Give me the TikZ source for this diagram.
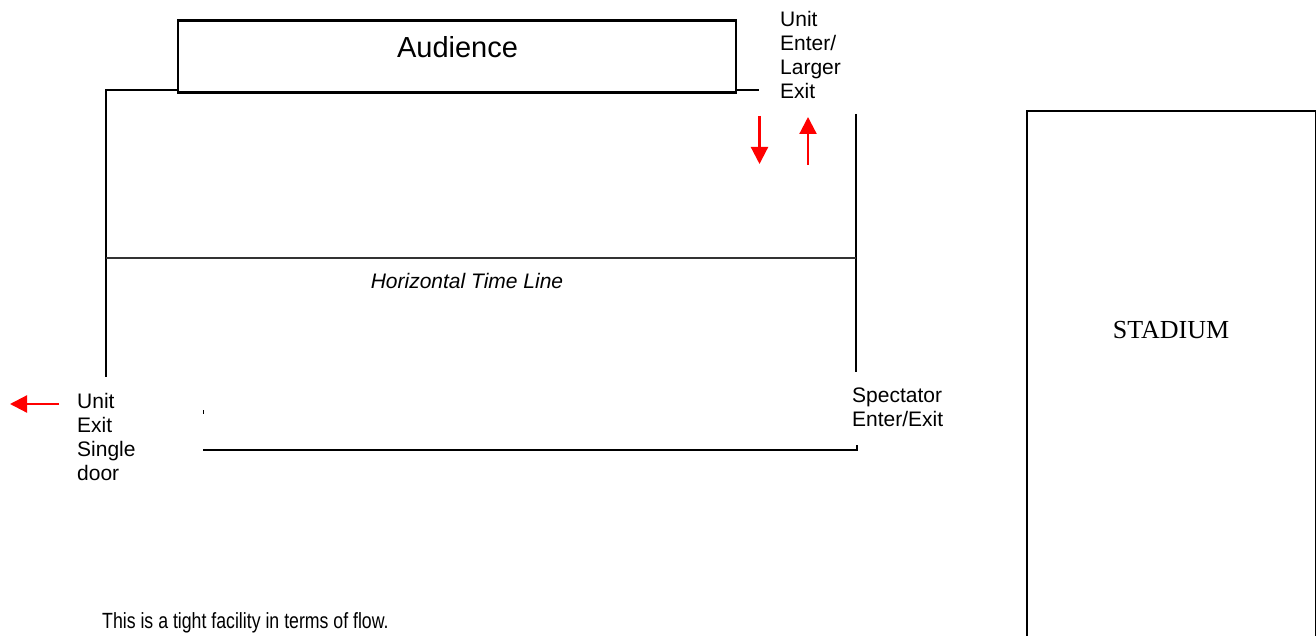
\documentclass[tikz,border=0pt]{standalone}
\usepackage{fontspec}
\setmainfont{Liberation Sans}
\newfontfamily\serifface{Liberation Serif}
\newfontfamily\narrowface[FakeStretch=0.805]{Liberation Sans}
\usetikzlibrary{arrows.meta}
\tikzset{
  wall/.style={line width=2.2pt, black},
  redarrow/.style={line width=2.2pt, red, -{Triangle[width=17pt,length=17pt]}},
  lbl/.style={font=\fontsize{21}{24}\selectfont, align=left, inner sep=0pt, anchor=north west},
}
\begin{document}
\begin{tikzpicture}[x=1pt,y=-1pt]
\useasboundingbox (0,0) rectangle (1316,636);
% audience box
\node (audience) [draw, line width=2.2pt, minimum width=558pt, minimum height=72pt, inner sep=0pt] at (457,56.5) {};
\node (audlbl) [font=\fontsize{29}{33}\selectfont, anchor=base] at (457.5,58) {Audience};
% walls
\coordinate (wl1) at (106,90);
\coordinate (wl2) at (106,377);
\coordinate (wr1) at (759,90);
\coordinate (rv1) at (856,114);
\coordinate (rv2) at (856,372);
\draw[wall] (audience.south west |- wl1) -- (wl1) -- (wl2);
\draw[wall] (audience.south east |- wr1) -- (wr1);
\draw[wall] (rv1) -- (rv2);
% time line
\coordinate (tl1) at (106,258);
\coordinate (tl2) at (856,258);
\draw[line width=1.6pt, black!80] (tl1) -- (tl2);
\node (tllbl) [font=\fontsize{21}{24}\selectfont\itshape, anchor=base] at (467,288) {Horizontal Time Line};
% bottom wall
\coordinate (bw1) at (203,450);
\coordinate (bw2) at (857,450);
\coordinate (bw3) at (857,445);
\draw[wall] (bw1) -- (bw2) -- (bw3);
\coordinate (dot1) at (203,410);
\coordinate (dot2) at (203,414);
\draw[line width=0.8pt] (dot1) -- (dot2);
% red arrows
\coordinate (da1) at (759.5,116);
\coordinate (da2) at (759.5,164);
\coordinate (ua1) at (808,165);
\coordinate (ua2) at (808,117);
\coordinate (la1) at (59,404);
\coordinate (la2) at (10,404);
\draw[redarrow] (da1) -- (da2);
\draw[redarrow] (ua1) -- (ua2);
\draw[redarrow] (la1) -- (la2);
% labels
\node (entlbl) [lbl] at (780,11) {Unit\\Enter/\\Larger\\Exit};
\node (exlbl) [lbl] at (77,393) {Unit\\Exit\\Single\\door};
\node (spclbl) [lbl] at (852,388) {Spectator\\Enter/Exit};
% stadium
\node (stadium) [draw, line width=2.2pt, anchor=north west, minimum width=289pt, minimum height=540pt, inner sep=0pt] at (1026,110) {};
\node (stadlbl) [font=\serifface\fontsize{26}{30}\selectfont, anchor=base] at (1171,338) {STADIUM};
% note
\node (note) [font=\narrowface\fontsize{22}{26}\selectfont, anchor=base west, inner sep=0pt] at (102,628) {This is a tight facility in terms of flow.};
\end{tikzpicture}
\end{document}
